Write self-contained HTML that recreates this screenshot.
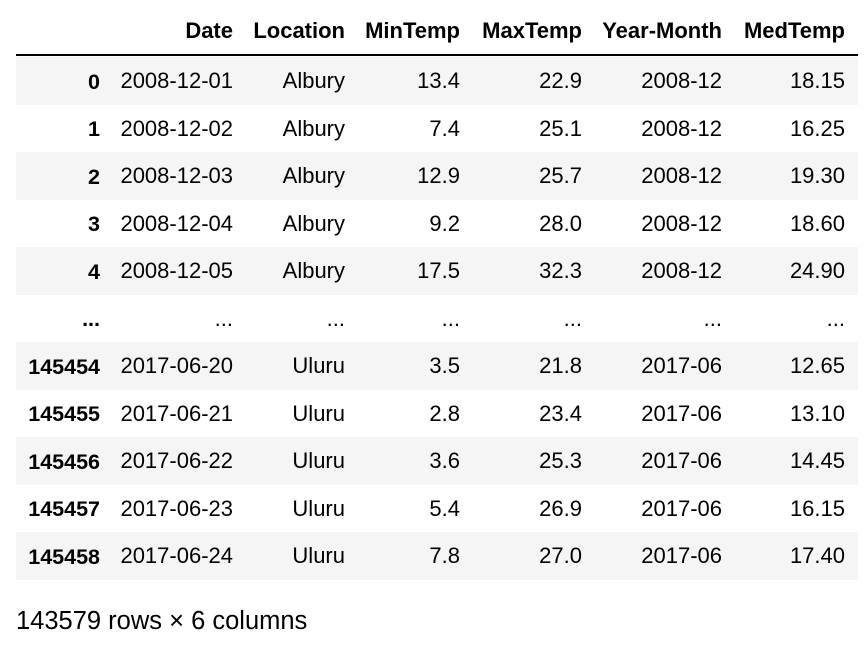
<!DOCTYPE html>
<html><head><meta charset="utf-8">
<style>
body{margin:0;width:866px;height:648px;background:#fff;font-family:"Liberation Sans",Arial,sans-serif;color:#000;overflow:hidden;position:relative}
.row{position:absolute;left:16px;width:842px;height:47.6px}
.row.s{background:#f5f5f5}
.c{position:absolute;top:0;height:100%;line-height:47.6px;font-size:22px;text-align:right;white-space:nowrap}
.h .c{font-weight:bold;line-height:44px}
.idx{font-weight:bold;font-size:21.5px;top:1.5px}
#rule{position:absolute;left:16px;width:842px;top:54px;height:1.5px;background:#000}
#foot{position:absolute;left:16px;top:607px;font-size:25.5px}
</style></head><body>
<div id="tbl"></div>
<div id="rule"></div>
<div id="foot">143579 rows × 6 columns</div>
<script>
const headers=["","Date","Location","MinTemp","MaxTemp","Year-Month","MedTemp"];
const rows=[
["0","2008-12-01","Albury","13.4","22.9","2008-12","18.15"],
["1","2008-12-02","Albury","7.4","25.1","2008-12","16.25"],
["2","2008-12-03","Albury","12.9","25.7","2008-12","19.30"],
["3","2008-12-04","Albury","9.2","28.0","2008-12","18.60"],
["4","2008-12-05","Albury","17.5","32.3","2008-12","24.90"],
["...","...","...","...","...","...","..."],
["145454","2017-06-20","Uluru","3.5","21.8","2017-06","12.65"],
["145455","2017-06-21","Uluru","2.8","23.4","2017-06","13.10"],
["145456","2017-06-22","Uluru","3.6","25.3","2017-06","14.45"],
["145457","2017-06-23","Uluru","5.4","26.9","2017-06","16.15"],
["145458","2017-06-24","Uluru","7.8","27.0","2017-06","17.40"]];
const rights=[84,217,329,444,566,706,829];
const tbl=document.getElementById('tbl');
function mk(vals,top,cls,name){
 const r=document.createElement('div');
 r.className='row '+cls;
 r.style.top=top+'px';
 
 
 vals.forEach((v,j)=>{
  const c=document.createElement('div');
  c.className='c'+(j==0?' idx':'');
  c.style.right=(842-rights[j])+'px';
  c.textContent=v;
  
  
  r.appendChild(c);
 });
 tbl.appendChild(r);
}
mk(headers,9,'h','header-row');
rows.forEach((v,i)=>mk(v,57+47.5*i,i%2==0?'s':'','data-row'));
</script>
</body></html>
